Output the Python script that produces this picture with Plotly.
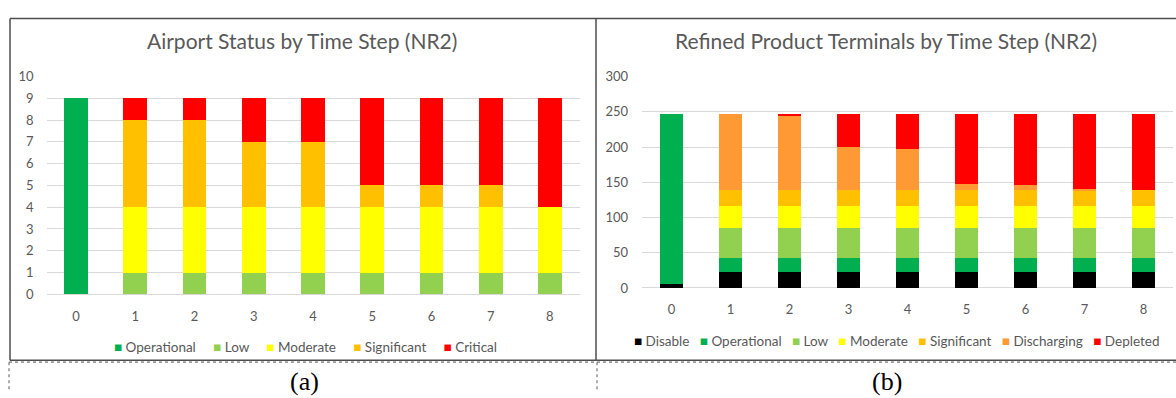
import plotly.graph_objects as go

W, H = 1176, 398

# ---------------- data ----------------
time_steps = [0, 1, 2, 3, 4, 5, 6, 7, 8]

# (a) Airport status
airport_series = ["Operational", "Low", "Moderate", "Significant", "Critical"]
airport_operational = [9, 0, 0, 0, 0, 0, 0, 0, 0]
airport_low = [0, 1, 1, 1, 1, 1, 1, 1, 1]
airport_moderate = [0, 3, 3, 3, 3, 3, 3, 3, 3]
airport_significant = [0, 4, 4, 3, 3, 1, 1, 1, 0]
airport_critical = [0, 1, 1, 2, 2, 4, 4, 4, 5]
airport_colors = ["#00B050", "#92D050", "#FFFF00", "#FFC000", "#FF0000"]

# (b) Refined product terminals
rpt_series = ["Disable", "Operational", "Low", "Moderate", "Significant", "Discharging", "Depleted"]
rpt_disable = [5, 22, 22, 22, 22, 22, 22, 22, 22]
rpt_operational = [242, 20, 20, 20, 20, 20, 20, 20, 20]
rpt_low = [0, 43, 43, 43, 43, 43, 43, 43, 43]
rpt_moderate = [0, 31, 31, 31, 31, 31, 31, 31, 31]
rpt_significant = [0, 23, 23, 23, 23, 23, 23, 23, 23]
rpt_discharging = [0, 108, 105, 61, 58, 9, 7, 2, 0]
rpt_depleted = [0, 0, 3, 47, 50, 99, 101, 106, 108]
rpt_colors = ["#000000", "#00B050", "#92D050", "#FFFF00", "#FFC000", "#FF9933", "#FF0000"]

left_ticks = [0, 1, 2, 3, 4, 5, 6, 7, 8, 9, 10]
right_ticks = [0, 50, 100, 150, 200, 250, 300]

title_a = "Airport Status by Time Step (NR2)"
title_b = "Refined Product Terminals by Time Step (NR2)"
caption_a = "(a)"
caption_b = "(b)"

# ---------------- figure ----------------
FONT = "Lato, 'Open Sans', sans-serif"
TXT = "#595959"
GRID = "#D9D9D9"


def px(x):
    return x / W


def py(y):
    return 1 - y / H


fig = go.Figure()

airport_values = [airport_operational, airport_low, airport_moderate,
                  airport_significant, airport_critical]
for name, vals, col in zip(airport_series, airport_values, airport_colors):
    fig.add_bar(x=time_steps, y=vals, name=name, marker_color=col,
                marker_line_width=0, xaxis="x", yaxis="y", showlegend=False)

rpt_values = [rpt_disable, rpt_operational, rpt_low, rpt_moderate,
              rpt_significant, rpt_discharging, rpt_depleted]
for name, vals, col in zip(rpt_series, rpt_values, rpt_colors):
    fig.add_bar(x=time_steps, y=vals, name=name, marker_color=col,
                marker_line_width=0, xaxis="x2", yaxis="y2", showlegend=False)

axis_common = dict(showline=False, ticks="", tickfont=dict(family=FONT, size=13, color=TXT))

fig.update_layout(
    width=W, height=H,
    margin=dict(l=0, r=0, t=0, b=0),
    paper_bgcolor="white", plot_bgcolor="white",
    barmode="stack", bargap=0.6,
    font=dict(family=FONT, color=TXT),
    xaxis=dict(domain=[px(46.5), px(579.5)], range=[-0.5, 8.5], tickmode="array",
               tickvals=time_steps, ticktext=[str(t) for t in time_steps],
               showgrid=False, zeroline=False, anchor="y", ticklabelstandoff=13, **axis_common),
    yaxis=dict(domain=[py(298.3), py(71.3)], range=[0, 10], tickmode="array",
               tickvals=left_ticks, showgrid=True, gridcolor=GRID, gridwidth=1,
               zeroline=True, zerolinecolor=GRID, zerolinewidth=1, anchor="x",
               ticklabelstandoff=12, **axis_common),
    xaxis2=dict(domain=[px(642), px(1173)], range=[-0.5, 8.5], tickmode="array",
                tickvals=time_steps, ticktext=[str(t) for t in time_steps],
                showgrid=False, zeroline=False, anchor="y2", ticklabelstandoff=12, **axis_common),
    yaxis2=dict(domain=[py(291.7), py(71.6)], range=[0, 300], tickmode="array",
                tickvals=right_ticks, showgrid=True, gridcolor=GRID, gridwidth=1,
                zeroline=True, zerolinecolor=GRID, zerolinewidth=1, anchor="x2",
                ticklabelstandoff=13, **axis_common),
)


def legend_text(names, colors, gap):
    parts = []
    for n, c in zip(names, colors):
        parts.append(f"<span style='color:{c}'>\u25A0</span>\u00a0{n}")
    return ("\u00a0" * gap).join(parts)


annotations = [
    dict(text=title_a, x=px(302), y=py(34), xref="paper", yref="paper",
         showarrow=False, xanchor="center", yanchor="middle",
         font=dict(family=FONT, size=21, color=TXT)),
    dict(text=title_b, x=px(886), y=py(34), xref="paper", yref="paper",
         showarrow=False, xanchor="center", yanchor="middle",
         font=dict(family=FONT, size=21, color=TXT)),
    dict(text=legend_text(airport_series, airport_colors, 5), x=px(305), y=py(353),
         xref="paper", yref="paper", showarrow=False, xanchor="center", yanchor="middle",
         font=dict(family=FONT, size=13.5, color=TXT)),
    dict(text=legend_text(rpt_series, rpt_colors, 3), x=px(896), y=py(347),
         xref="paper", yref="paper", showarrow=False, xanchor="center", yanchor="middle",
         font=dict(family=FONT, size=13.5, color=TXT)),
    dict(text=caption_a, x=px(304), y=py(389), xref="paper", yref="paper",
         showarrow=False, xanchor="center", yanchor="middle",
         font=dict(family="Liberation Serif, serif", size=26, color="#000000")),
    dict(text=caption_b, x=px(887), y=py(389), xref="paper", yref="paper",
         showarrow=False, xanchor="center", yanchor="middle",
         font=dict(family="Liberation Serif, serif", size=26, color="#000000")),
]
fig.update_layout(annotations=annotations)

BORDER = "#4D4D4D"
shapes = []


def line(x0, y0, x1, y1, dash="solid", width=1.5, color=BORDER):
    shapes.append(dict(type="line", xref="paper", yref="paper",
                       x0=px(x0), y0=py(y0), x1=px(x1), y1=py(y1),
                       line=dict(color=color, width=width, dash=dash)))


# frames around the two charts
line(10, 11, 1176, 11, width=1.5)
line(10, 11, 10, 367)
line(596, 11, 596, 367)
line(10, 367, 1176, 367)
# lower caption row (dotted)
line(9, 369, 1176, 369, dash="dot", width=1.2, color="#777777")
line(9, 369, 9, 398, dash="dot", width=1.2, color="#777777")
line(597, 369, 597, 398, dash="dot", width=1.2, color="#777777")
fig.update_layout(shapes=shapes)

fig.write_html("out.html")
